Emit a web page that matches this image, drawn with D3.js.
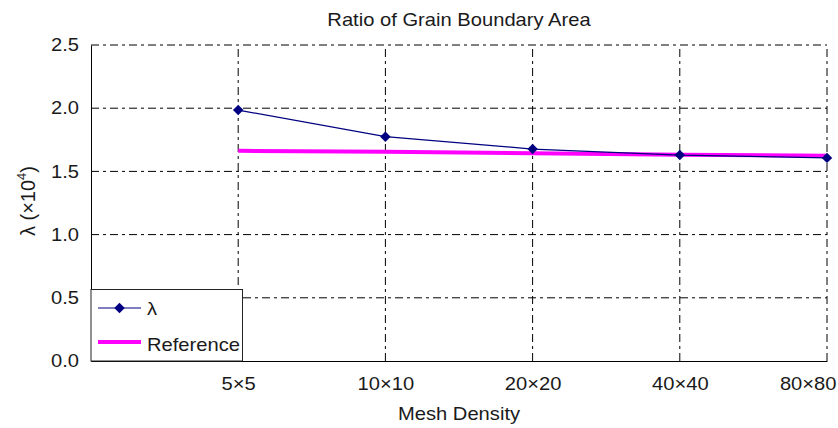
<!DOCTYPE html>
<html><head><meta charset="utf-8">
<script src="https://cdn.jsdelivr.net/npm/d3@7"></script>
<style>body{margin:0;background:#fff}svg text{font-family:Arial,"Liberation Sans",sans-serif;fill:#1a1a1a}</style>
</head><body><svg id="c" width="838" height="428"></svg>
<script>
const categories = ["5×5","10×10","20×20","40×40","80×80"];
const lambdaValues = [1.985, 1.775, 1.677, 1.629, 1.607];
const referenceValues = [1.663, 1.655, 1.643, 1.632, 1.624];
const yTicks = [0.0, 0.5, 1.0, 1.5, 2.0, 2.5];

const SX = 1.12, FS = 18;
const svg = d3.select("#c");
const L = 91, R = 827, T = 45, B = 361;
const x = d3.scaleLinear().domain([0, categories.length]).range([L, R]);
const y = d3.scaleLinear().domain([0, 2.5]).range([B, T]);
const dash = "8,4,3,4";

function label(px, py, txt, anchor, size) {
  const gg = svg.append("g").attr("transform", `translate(${px},${py})`);
  return gg.append("text").attr("transform", `scale(${SX},1)`).attr("text-anchor", anchor || "start")
    .style("font-size", (size || FS) + "px").text(txt);
}

// grid
const g = svg.append("g");
g.selectAll(".hg").data(yTicks.filter(d => d > 0)).enter().append("line")
  .attr("x1", L).attr("x2", R).attr("y1", d => y(d)).attr("y2", d => y(d))
  .attr("stroke", "#000").attr("stroke-width", 1).attr("stroke-dasharray", dash);
g.selectAll(".vg").data(categories).enter().append("line")
  .attr("x1", (d, i) => x(i + 1)).attr("x2", (d, i) => x(i + 1))
  .attr("y1", B).attr("y2", T)
  .attr("stroke", "#000").attr("stroke-width", 1).attr("stroke-dasharray", dash);

// axes
const yAxis = d3.axisLeft(y).tickValues(yTicks).tickFormat(d3.format(".1f")).tickSize(0).tickPadding(12);
const ya = svg.append("g").attr("transform", `translate(${L},0)`).call(yAxis);
ya.select(".domain").attr("stroke", "#000");
ya.selectAll("text").style("font-size", FS + "px").attr("fill", "#1a1a1a")
  .attr("x", -12 / SX).attr("transform", `scale(${SX},1)`);

const xAxis = d3.axisBottom(x).tickValues(d3.range(1, categories.length + 1))
  .tickFormat(d => categories[d - 1]).tickSize(0).tickPadding(16);
const xa = svg.append("g").attr("transform", `translate(0,${B})`).call(xAxis);
xa.select(".domain").attr("stroke", "#000");
xa.selectAll("text").style("font-size", FS + "px").attr("fill", "#1a1a1a")
  .attr("transform", `scale(${SX},1)`);
// keep the last label inside the canvas
xa.selectAll(".tick").each(function (d) {
  const t = d3.select(this).select("text");
  const w = t.node().getComputedTextLength() * SX;
  const over = x(d) + w / 2 - 836;
  if (over > 0) t.attr("x", -over / SX);
});

// reference line
const idx = d3.range(categories.length);
svg.append("path").datum(idx)
  .attr("d", d3.line().x(i => x(i + 1)).y(i => y(referenceValues[i])))
  .attr("fill", "none").attr("stroke", "#ff00ff").attr("stroke-width", 4);

// lambda line
svg.append("path").datum(idx)
  .attr("d", d3.line().x(i => x(i + 1)).y(i => y(lambdaValues[i])))
  .attr("fill", "none").attr("stroke", "#000080").attr("stroke-width", 1.2);
const diamond = d3.symbol().type(d3.symbolDiamond2).size(70);
svg.selectAll(".pt").data(idx).enter().append("path")
  .attr("d", diamond)
  .attr("transform", i => `translate(${x(i + 1)},${y(lambdaValues[i])})`)
  .attr("fill", "#000080");

// legend
const lg = svg.append("g");
lg.append("rect").attr("x", L).attr("y", 289.5).attr("width", 151.5).attr("height", B - 289.5)
  .attr("fill", "#fff").attr("stroke", "#222").attr("stroke-width", 1);
lg.append("line").attr("x1", 98).attr("x2", 141).attr("y1", 308).attr("y2", 308)
  .attr("stroke", "#000080").attr("stroke-width", 1.2);
lg.append("path").attr("d", diamond).attr("transform", "translate(119.5,308)").attr("fill", "#000080");
svg.append("line").attr("x1", 98).attr("x2", 141).attr("y1", 342).attr("y2", 342)
  .attr("stroke", "#ff00ff").attr("stroke-width", 4);
label(147, 315, "λ");
label(147, 350.5, "Reference");

// titles
label(459, 26, "Ratio of Grain Boundary Area", "middle");
label(459, 420, "Mesh Density", "middle");
const yl = svg.append("text").attr("transform", "translate(35,201) rotate(-90)")
  .attr("text-anchor", "middle").style("font-size", "20px");
yl.append("tspan").text("λ (×10");
yl.append("tspan").attr("dy", -9).style("font-size", "13px").text("4");
yl.append("tspan").attr("dy", 9).text(")");
</script></body></html>
